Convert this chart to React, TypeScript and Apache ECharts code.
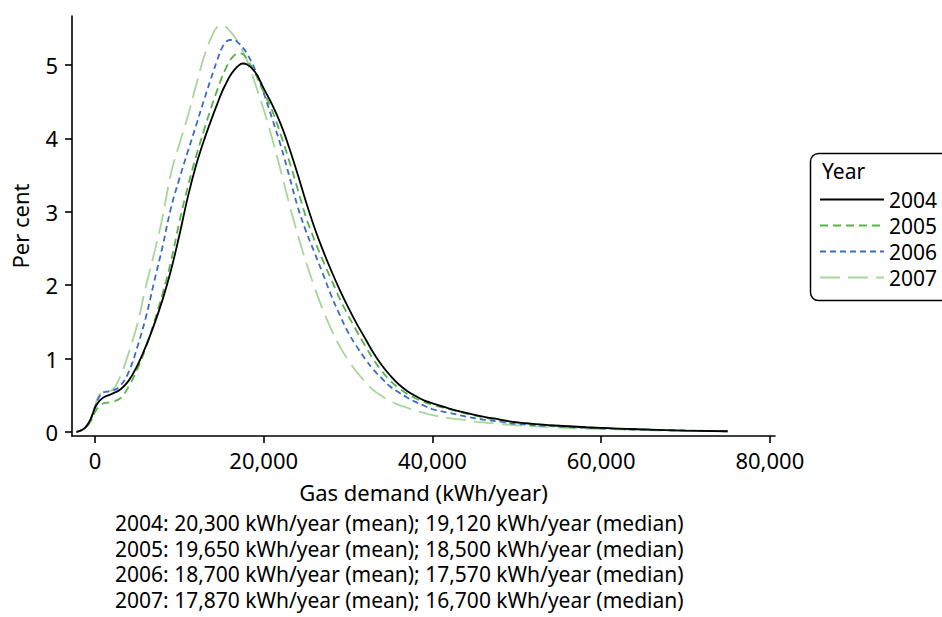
import React, { useEffect, useRef } from "react";
import * as echarts from "echarts";

const X_VALUES = [
  -2200, -1500, -1000, -500, 0, 500, 1000, 2000, 3000, 4000, 5000, 6000, 7000, 8000, 9000,
  10000, 11000, 12000, 13000, 14000, 14500, 15000, 15500, 16000, 16500, 17000, 17500, 18000,
  19000, 20000, 21000, 22000, 23000, 24000, 25000, 26000, 27000, 28000, 29000, 30000, 31000,
  32000, 33000, 34000, 35000, 36000, 37000, 38000, 39000, 40000, 42000, 44000, 46000, 48000,
  50000, 55000, 60000, 65000, 70000, 75000,
];

const Y_2004 = [
  0, 0.03, 0.08, 0.18, 0.33, 0.42, 0.47, 0.52, 0.58, 0.7, 0.9, 1.16, 1.46, 1.8, 2.2,
  2.68, 3.2, 3.64, 4.0, 4.32, 4.47, 4.62, 4.74, 4.85, 4.93, 4.99, 5.02, 5.01,
  4.9, 4.68, 4.46, 4.2, 3.88, 3.52, 3.14, 2.79, 2.48, 2.2, 1.94, 1.7, 1.48,
  1.28, 1.08, 0.91, 0.77, 0.65, 0.56, 0.49, 0.43, 0.39, 0.32, 0.26, 0.21, 0.17,
  0.13, 0.085, 0.055, 0.035, 0.02, 0.01,
];

const Y_2005 = [
  0, 0.03, 0.07, 0.15, 0.27, 0.35, 0.39, 0.41, 0.46, 0.62, 0.85, 1.14, 1.49, 1.88, 2.32,
  2.86, 3.34, 3.76, 4.14, 4.5, 4.66, 4.82, 4.95, 5.06, 5.13, 5.16, 5.15, 5.08,
  4.88, 4.63, 4.38, 4.06, 3.7, 3.32, 2.93, 2.62, 2.34, 2.08, 1.82, 1.59, 1.38,
  1.18, 0.99, 0.83, 0.7, 0.6, 0.52, 0.46, 0.41, 0.37, 0.31, 0.25, 0.2, 0.16,
  0.13, 0.085, 0.055, 0.035, 0.02, 0.01,
];

const Y_2006 = [
  0, 0.03, 0.08, 0.18, 0.34, 0.48, 0.54, 0.56, 0.63, 0.82, 1.15, 1.55, 2.04, 2.52, 3.05,
  3.45, 3.82, 4.18, 4.55, 4.9, 5.07, 5.22, 5.31, 5.34, 5.34, 5.3, 5.24, 5.16,
  4.93, 4.62, 4.27, 3.91, 3.5, 3.08, 2.74, 2.45, 2.16, 1.86, 1.6, 1.36, 1.17,
  1.0, 0.85, 0.73, 0.62, 0.54, 0.47, 0.41, 0.36, 0.31, 0.26, 0.21, 0.17, 0.14,
  0.11, 0.075, 0.05, 0.03, 0.02, 0.01,
];

const Y_2007 = [
  0, 0.03, 0.08, 0.19, 0.36, 0.5, 0.55, 0.57, 0.76, 1.08, 1.46, 1.97, 2.43, 2.92, 3.52,
  3.92, 4.3, 4.73, 5.14, 5.43, 5.52, 5.54, 5.52, 5.46, 5.39, 5.3, 5.19, 5.07,
  4.74, 4.39, 4.0, 3.57, 3.12, 2.7, 2.32, 1.98, 1.67, 1.4, 1.17, 0.98, 0.82,
  0.69, 0.57, 0.49, 0.42, 0.37, 0.33, 0.29, 0.26, 0.23, 0.19, 0.16, 0.13, 0.11,
  0.09, 0.06, 0.04, 0.025, 0.015, 0.01,
];

const YEARS = ["2004", "2005", "2006", "2007"];
const X_TICKS = [0, 20000, 40000, 60000, 80000];
const Y_TICKS = [0, 1, 2, 3, 4, 5];
const FOOTNOTES = [
  "2004: 20,300 kWh/year (mean); 19,120 kWh/year (median)",
  "2005: 19,650 kWh/year (mean); 18,500 kWh/year (median)",
  "2006: 18,700 kWh/year (mean); 17,570 kWh/year (median)",
  "2007: 17,870 kWh/year (mean); 16,700 kWh/year (median)",
];

const SERIES_VALUES = [Y_2004, Y_2005, Y_2006, Y_2007];
const SERIES_COLORS = ["#000000", "#55b548", "#3a6cc4", "#a8d59c"];
const SERIES_DASH: any[] = ["solid", [8, 5], [6, 4], [20, 8]];

const FONT = "'Noto Sans', 'Open Sans', sans-serif";
const FS = 22;

function fmt(v: number) {
  return String(v).replace(/\B(?=(\d{3})+(?!\d))/g, ",");
}

export default function App() {
  const ref = useRef<HTMLDivElement>(null);
  useEffect(() => {
    if (!ref.current) return;
    const chart = echarts.init(ref.current, undefined, { renderer: "svg" });
    const series = YEARS.map((name, k) => ({
      name,
      type: "line",
      data: X_VALUES.map((x, i) => [x, SERIES_VALUES[k][i]]),
      showSymbol: false,
      symbol: "none",
      smooth: 0.4,
      lineStyle: { color: SERIES_COLORS[k], width: 1.8, type: SERIES_DASH[k] },
      itemStyle: { color: SERIES_COLORS[k] },
      z: 10 - k,
    }));
    chart.setOption({
      animation: false,
      backgroundColor: "#ffffff",
      textStyle: { fontFamily: FONT },
      grid: { left: 72, right: 167, top: 16, bottom: 181, containLabel: false },
      xAxis: {
        type: "value",
        min: -2727,
        max: 80614,
        axisLine: { onZero: false, lineStyle: { color: "#000", width: 1.6 } },
        axisTick: { show: true, length: 7, customValues: X_TICKS, lineStyle: { color: "#000", width: 1.6 } },
        axisLabel: { customValues: X_TICKS, formatter: (v: number) => fmt(v), fontSize: FS, color: "#000", margin: 13, fontFamily: FONT },
        splitLine: { show: false },
        name: "Gas demand (kWh/year)",
        nameLocation: "middle",
        nameGap: 45,
        nameTextStyle: { fontSize: FS, color: "#000", fontFamily: FONT },
      },
      yAxis: {
        type: "value",
        min: -0.0545,
        max: 5.667,
        axisLine: { show: true, onZero: false, lineStyle: { color: "#000", width: 1.6 } },
        axisTick: { show: true, length: 7, customValues: Y_TICKS, lineStyle: { color: "#000", width: 1.6 } },
        axisLabel: { customValues: Y_TICKS, fontSize: FS, color: "#000", margin: 14, fontFamily: FONT },
        splitLine: { show: false },
        name: "Per cent",
        nameLocation: "middle",
        nameGap: 41,
        nameTextStyle: { fontSize: FS, color: "#000", fontFamily: FONT },
      },
      legend: {
        data: YEARS,
        orient: "vertical",
        left: 819,
        top: 188,
        itemWidth: 64,
        itemHeight: 20,
        itemGap: 3,
        padding: 0,
        itemStyle: { opacity: 0 },
        textStyle: { fontSize: 21, lineHeight: 23, color: "#000", fontFamily: FONT },
      },
      graphic: [
        {
          type: "rect",
          left: 808,
          top: 151,
          shape: { width: 160, height: 147, r: 8 },
          style: { fill: "none", stroke: "#000", lineWidth: 1.5 },
          silent: true,
        },
        {
          type: "text",
          left: 822,
          top: 160,
          style: { text: "Year", fontSize: 21, fill: "#000", fontFamily: FONT },
        },
        ...FOOTNOTES.map((t, i) => ({
          type: "text",
          left: 115,
          top: 511 + i * 25.5,
          style: { text: t, fontSize: 21, lineHeight: 24, fill: "#000", fontFamily: FONT },
        })),
      ],
      series,
    });
    return () => chart.dispose();
  }, []);
  return <div ref={ref} style={{ width: 942, height: 617, position: "absolute", left: 0, top: 0 }} />;
}
